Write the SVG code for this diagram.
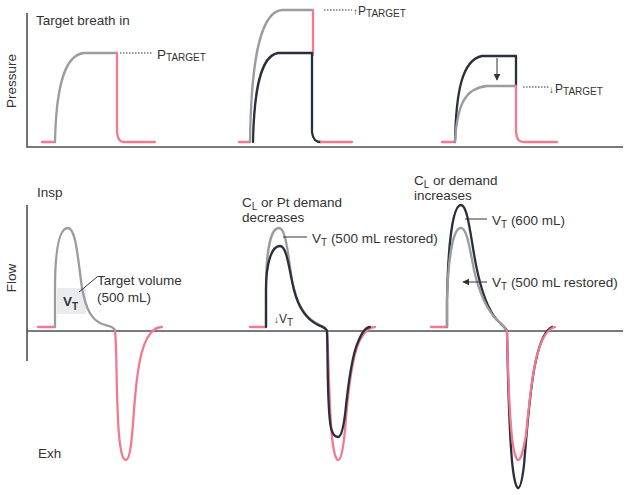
<svg xmlns="http://www.w3.org/2000/svg" width="629" height="495" viewBox="0 0 629 495">
<style>
text{font-family:"Liberation Sans","DejaVu Sans",Arial,sans-serif;font-size:13.5px;fill:#333}
.sub{font-size:10px}
.ar{font-size:10px}
.ax{stroke:#4a4f5a;stroke-width:1.6;fill:none}
.g{stroke:#9a9c9f;stroke-width:2.3;fill:none;stroke-linecap:round;stroke-linejoin:round}
.d{stroke:#2b2f3b;stroke-width:2.3;fill:none;stroke-linecap:round;stroke-linejoin:round}
.p{stroke:#f27a90;stroke-width:2.3;fill:none;stroke-linecap:round;stroke-linejoin:round}
.dot{stroke:#333;stroke-width:1;stroke-dasharray:1.5 1.5;fill:none}
.ld{stroke:#333;stroke-width:1;fill:none}
</style>
<defs>
<marker id="ah" viewBox="0 0 10 10" refX="9" refY="5" markerWidth="7" markerHeight="7" markerUnits="userSpaceOnUse" orient="auto">
<path d="M0,0 L10,5 L0,10 z" fill="#333"/>
</marker>
</defs>

<g id="axes">
<path class="ax" d="M27,13 V147 H623"/>
<path class="ax" d="M27,205 V361 M27,331 H623"/>
<text transform="translate(16,81) rotate(-90)" text-anchor="middle">Pressure</text>
<text transform="translate(16,278) rotate(-90)" text-anchor="middle">Flow</text>
<text x="37" y="197">Insp</text>
<text x="38" y="458">Exh</text>
</g>

<g id="pressure-1">
<path class="p" d="M42,142 H55"/>
<path class="g" d="M55,142 C56,92 63,55 84,53 H117"/>
<path class="p" d="M117,53 V132 C118,140 120,142 124,142 H155"/>
<text x="36" y="25">Target breath in</text>
<text x="157" y="59" font-size="12">P<tspan class="sub" dy="2">TARGET</tspan></text>
</g>

<g id="pressure-2">
<path class="p" d="M239,142 H250"/>
<path class="g" d="M250,142 C251,70 258,12 282,10 H312"/>
<path class="d" d="M253,142 C254,92 260,56 278,53 H312"/>
<path class="p" d="M313,10 V55"/>
<path class="d" d="M312,53 V132 C313,140 316,142 321,142"/>
<path class="p" d="M321,142 H352"/>
<text x="353" y="15"><tspan class="ar">↑</tspan><tspan x="358" font-size="12">P</tspan><tspan class="sub" dy="2">TARGET</tspan></text>
</g>

<g id="pressure-3">
<path class="p" d="M442,142 H455"/>
<path class="d" d="M455,142 C456,92 462,60 482,56 H516 V86"/>
<path class="g" d="M455,142 C457,105 465,88 487,86 H516"/>
<path class="p" d="M516,86 V132 C517,140 519,142 524,142 H557"/>
<text x="549" y="93"><tspan class="ar">↓</tspan><tspan x="555" font-size="12">P</tspan><tspan class="sub" dy="2">TARGET</tspan></text>
</g>

<g id="flow-1">
<rect x="57" y="288" width="29" height="26" fill="#e9ebee"/>
<path class="p" d="M38,327 H55"/>
<path class="g" d="M55,327 V290 C55,250 59,228 68,228 C76,228 78,260 82,288 C86,310 92,320 102,324 C108,326 113,326 115,330"/>
<path class="p" d="M115,331 C117,345 116,400 119,435 C121,455 123,460 126,460 C130,460 132,440 134,410 C137,370 141,345 150,334 C153,330 156,327 162,327"/>
<text x="63" y="306" font-weight="bold" font-size="12.5">V<tspan class="sub" dy="4" font-weight="bold">T</tspan></text>
<text x="97" y="285">Target volume</text>
<text x="97" y="302">(500 mL)</text>
</g>

<g id="flow-2">
<path class="p" d="M250,327 H266"/>
<path class="g" d="M266,327 V290 C266,250 271,228 279,228 C286,228 288,255 292,280 C297,305 305,318 318,324 C323,327 326,327 327,331"/>
<path class="p" d="M327,331 C329,360 329,420 333,445 C335,458 337,460 338,460 C341,460 343,450 345,430 C348,390 352,355 360,340 C365,330 370,327 375,327"/>
<path class="d" d="M266,327 V290 C266,265 271,246 280,246 C287,246 289,270 294,290 C299,310 308,320 318,325 C323,327 326,328 327,331 C328,360 327,410 331,428 C333,436 336,437 338,437 C341,437 343,430 345,415 C348,385 352,355 358,342 C362,332 366,327 370,327"/>
<text x="242" y="207">C<tspan class="sub" dy="2.5">L</tspan><tspan dy="-2.5"> or Pt demand</tspan></text>
<text x="242" y="222">decreases</text>
<text x="312" y="243">V<tspan class="sub" dy="3">T</tspan><tspan dy="-3"> (500 mL restored)</tspan></text>
<text x="274" y="323"><tspan class="ar">↓</tspan><tspan font-size="12">V</tspan><tspan class="sub" dy="3">T</tspan></text>
</g>

<g id="flow-3">
<path class="p" d="M431,327 H447"/>
<path class="d" d="M447,327 V300 C448,250 452,205 461,205 C468,205 471,240 476,265 C481,290 488,310 497,320 C502,325 505,327 507,331"/>
<path class="g" d="M447,327 V300 C448,265 452,228 461,228 C467,228 470,250 474,270 C479,292 487,310 497,320 C502,325 505,327 507,331"/>
<path class="d" d="M507,331 C508,380 509,440 513,470 C515,485 517,488 518,488 C520,488 522,482 524,465 C527,430 530,385 536,360 C540,342 545,330 552,327"/>
<path class="p" d="M507,331 C508,370 509,420 513,445 C515,457 517,460 518,460 C521,460 523,452 526,435 C529,405 532,370 538,352 C542,338 548,329 555,327"/>
<text x="414" y="185">C<tspan class="sub" dy="2.5">L</tspan><tspan dy="-2.5"> or demand</tspan></text>
<text x="414" y="200">increases</text>
<text x="492" y="225">V<tspan class="sub" dy="3">T</tspan><tspan dy="-3"> (600 mL)</tspan></text>
<text x="492" y="287">V<tspan class="sub" dy="3">T</tspan><tspan dy="-3"> (500 mL restored)</tspan></text>
</g>

<g id="connectors">
<path class="dot" d="M120,53 H152"/>
<path class="dot" d="M324,10 H352"/>
<path class="dot" d="M523,87 H549"/>
<path class="ld" d="M497,58 V80" marker-end="url(#ah)"/>
<path class="ld" d="M79,292 L97,277"/>
<path class="ld" d="M283,237 H307"/>
<path class="ld" d="M465,219 H487"/>
<path class="ld" d="M487,282 H463" marker-end="url(#ah)"/>
</g>
</svg>
